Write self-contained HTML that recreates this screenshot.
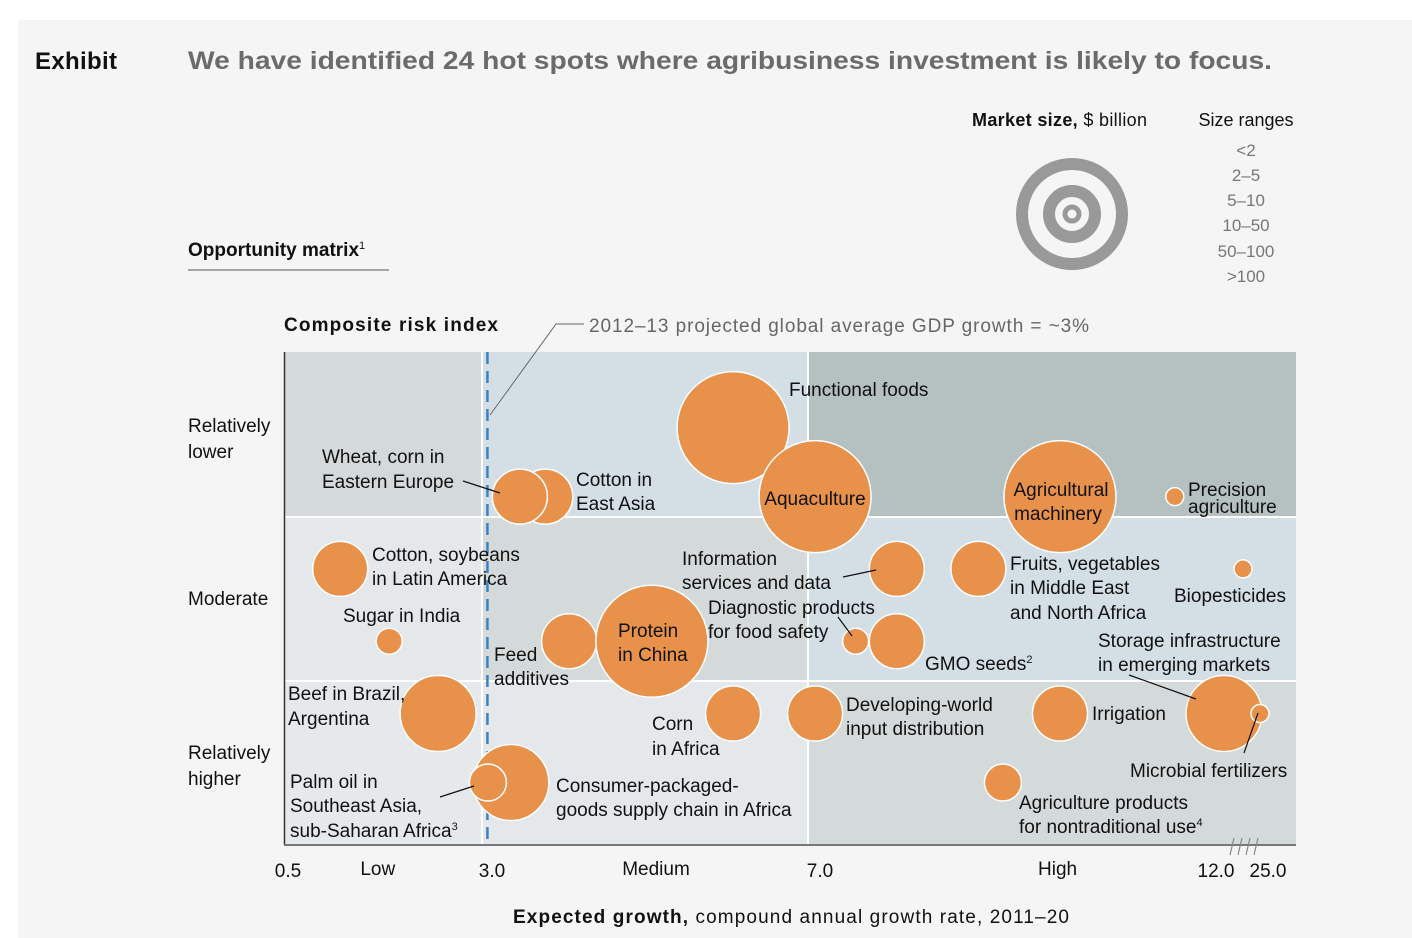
<!DOCTYPE html>
<html><head><meta charset="utf-8">
<style>
body{margin:0;background:#fff;}
svg{display:block;font-family:"Liberation Sans",Arial,sans-serif;}
</style></head>
<body>
<svg id="chart" width="1412" height="938" viewBox="0 0 1412 938">
<rect x="18" y="20" width="1394" height="918" fill="#f5f5f5"/>
<text x="35" y="69" font-size="24" font-weight="bold" fill="#111" textLength="82">Exhibit</text>
<text x="188" y="69" font-size="25" font-weight="bold" fill="#6b6b6b" textLength="1084" lengthAdjust="spacingAndGlyphs">We have identified 24 hot spots where agribusiness investment is likely to focus.</text>

<g>
<text x="972" y="126" font-size="18" fill="#111" textLength="175"><tspan font-weight="bold">Market size,</tspan> $ billion</text>
<text x="1246" y="126" font-size="18" text-anchor="middle" fill="#111">Size ranges</text>
<circle cx="1072" cy="214" r="50" fill="none" stroke="#999" stroke-width="12"/>
<circle cx="1072" cy="214" r="23" fill="none" stroke="#999" stroke-width="12"/>
<circle cx="1072" cy="214" r="7" fill="none" stroke="#999" stroke-width="5"/>
<g font-size="17" fill="#777" text-anchor="middle">
<text x="1246" y="156">&lt;2</text>
<text x="1246" y="181">2–5</text>
<text x="1246" y="206">5–10</text>
<text x="1246" y="231">10–50</text>
<text x="1246" y="257">50–100</text>
<text x="1246" y="282">&gt;100</text>
</g>
</g>

<text x="188" y="256" font-size="19" font-weight="bold" fill="#111">Opportunity matrix<tspan font-size="11" font-weight="normal" dy="-7">1</tspan></text>
<line x1="188" y1="270" x2="389" y2="270" stroke="#555" stroke-width="1"/>
<text x="284" y="331" font-size="19" font-weight="bold" fill="#111" textLength="214">Composite risk index</text>

<g>
<rect x="284" y="352" width="198" height="165" fill="#d4d9da"/>
<rect x="482" y="352" width="326" height="165" fill="#d3dee5"/>
<rect x="808" y="352" width="488" height="165" fill="#b5c0c0"/>
<rect x="284" y="517" width="198" height="164" fill="#e4e8ea"/>
<rect x="482" y="517" width="326" height="164" fill="#d4d9da"/>
<rect x="808" y="517" width="488" height="164" fill="#d3dee5"/>
<rect x="284" y="681" width="198" height="164" fill="#e6e9eb"/>
<rect x="482" y="681" width="326" height="164" fill="#e4e8ea"/>
<rect x="808" y="681" width="488" height="164" fill="#d4d9da"/>
<line x1="284" y1="517" x2="1296" y2="517" stroke="#fff" stroke-width="2"/>
<line x1="284" y1="681" x2="1296" y2="681" stroke="#fff" stroke-width="2"/>
<line x1="482" y1="352" x2="482" y2="845" stroke="#fff" stroke-width="2"/>
<line x1="808" y1="352" x2="808" y2="845" stroke="#fff" stroke-width="2"/>
</g>
<line x1="284.5" y1="352" x2="284.5" y2="845" stroke="#333" stroke-width="1.5"/>
<line x1="284" y1="845" x2="1296" y2="845" stroke="#777" stroke-width="2"/>
<g stroke="#888" stroke-width="1.2">
<line x1="1230" y1="855" x2="1234" y2="838"/><line x1="1238" y1="855" x2="1242" y2="838"/>
<line x1="1246" y1="855" x2="1250" y2="838"/><line x1="1254" y1="855" x2="1258" y2="838"/>
</g>

<g font-size="19" fill="#111">
<text x="188" y="432">Relatively<tspan x="188" dy="26">lower</tspan></text>
<text x="188" y="605">Moderate</text>
<text x="188" y="759">Relatively<tspan x="188" dy="26">higher</tspan></text>
</g>

<g id="xticks" font-size="19" fill="#111" text-anchor="middle"></g>
<text x="513" y="923" font-size="19" fill="#111" textLength="556"><tspan font-weight="bold">Expected growth,</tspan> compound annual growth rate, 2011–20</text>

<line id="gdpline" y1="352" y2="845" stroke="#3a83c0" stroke-width="2.5" stroke-dasharray="12,7"/>
<polyline points="490,415 556,324 584,324" fill="none" stroke="#666" stroke-width="1"/>
<text x="589" y="332" font-size="19" fill="#666" textLength="500">2012–13 projected global average GDP growth = ~3%</text>

<g id="bubbles"></g>

<g stroke="#111" stroke-width="1.2" fill="none">
<line x1="463" y1="481" x2="500" y2="493"/>
<line x1="843" y1="577" x2="876" y2="570"/>
<line x1="838" y1="617" x2="852" y2="636"/>
<line x1="1129" y1="675" x2="1196" y2="699"/>
<line x1="1244" y1="753" x2="1258" y2="713"/>
<line x1="440" y1="797" x2="474" y2="786"/>
</g>

<g font-size="19" fill="#111">
<text x="789" y="396">Functional foods</text>
<text x="322" y="463">Wheat, corn in<tspan x="322" dy="25">Eastern Europe</tspan></text>
<text x="576" y="486">Cotton in<tspan x="576" dy="24">East Asia</tspan></text>
<text x="815" y="505" text-anchor="middle">Aquaculture</text>
<text x="1061" y="496" text-anchor="middle">Agricultural<tspan x="1058" dy="24">machinery</tspan></text>
<text x="1188" y="496">Precision<tspan x="1188" dy="17">agriculture</tspan></text>
<text x="372" y="561">Cotton, soybeans<tspan x="372" dy="24">in Latin America</tspan></text>
<text x="682" y="565">Information<tspan x="682" dy="24">services and data</tspan></text>
<text x="1010" y="570">Fruits, vegetables<tspan x="1010" dy="24">in Middle East</tspan><tspan x="1010" dy="25">and North Africa</tspan></text>
<text x="1174" y="602">Biopesticides</text>
<text x="343" y="622">Sugar in India</text>
<text x="708" y="614">Diagnostic products<tspan x="708" dy="24">for food safety</tspan></text>
<text x="618" y="637">Protein<tspan x="618" dy="24">in China</tspan></text>
<text x="1098" y="647">Storage infrastructure<tspan x="1098" dy="24">in emerging markets</tspan></text>
<text x="494" y="661">Feed<tspan x="494" dy="24">additives</tspan></text>
<text x="925" y="670">GMO seeds<tspan font-size="11" dy="-7">2</tspan></text>
<text x="288" y="700">Beef in Brazil,<tspan x="288" dy="25">Argentina</tspan></text>
<text x="846" y="711">Developing-world<tspan x="846" dy="24">input distribution</tspan></text>
<text x="1092" y="720">Irrigation</text>
<text x="652" y="730">Corn<tspan x="652" dy="25">in Africa</tspan></text>
<text x="1130" y="777">Microbial fertilizers</text>
<text x="290" y="788">Palm oil in<tspan x="290" dy="24">Southeast Asia,</tspan><tspan x="290" dy="25">sub-Saharan Africa</tspan><tspan font-size="11" dy="-7">3</tspan></text>
<text x="556" y="792">Consumer-packaged-<tspan x="556" dy="24">goods supply chain in Africa</tspan></text>
<text x="1019" y="809">Agriculture products<tspan x="1019" dy="24">for nontraditional use</tspan><tspan font-size="11" dy="-7">4</tspan></text>
</g>
</svg>
<script>
// Data
const names = ["Wheat, corn in Eastern Europe","Cotton in East Asia","Functional foods","Aquaculture","Agricultural machinery","Precision agriculture","Cotton, soybeans in Latin America","Information services and data","Fruits, vegetables in MENA","Biopesticides","Sugar in India","Feed additives","Protein in China","Diagnostic products","GMO seeds","Beef in Brazil, Argentina","Corn in Africa","Developing-world input distribution","Irrigation","Storage infrastructure","Microbial fertilizers","Consumer-packaged goods Africa","Palm oil","Agriculture products nontraditional"];
const growth = [3.34,3.65,5.94,6.94,10.03,11.48,1.14,7.97,9.0,18.75,1.74,3.94,4.95,7.45,7.97,2.34,5.94,6.94,10.03,14.0,23.0,3.23,2.95,9.31];
const risk = [0.88,0.88,0.46,0.88,0.88,0.88,1.32,1.32,1.32,1.32,1.76,1.76,1.76,1.76,1.76,2.20,2.20,2.20,2.20,2.20,2.20,2.62,2.62,2.62];
const sizeClass = [4,4,6,6,6,1,4,4,4,1,2,4,6,2,4,5,4,4,4,5,1,5,3,3];
const drawOrder = [1,0,2,3,4,5,6,7,8,9,10,11,12,13,14,15,16,17,18,19,20,21,22,23];
const tickValues = [0.5,3.0,7.0,12.0,25.0];
const tickLabels = ["0.5","3.0","7.0","12.0","25.0"];
const zoneLabels = ["Low","Medium","High"];
const zoneLabelValues = [1.6,5.0,10.0];
const gdpGrowth = 2.95;

// Axis functions (piecewise linear x, linear y)
const xDom = [0.5,3.0,7.0,12.0,25.0], xRng = [288,492,820,1216,1268];
function xScale(v){
  for(let i=0;i<xDom.length-1;i++){
    if(v<=xDom[i+1]||i===xDom.length-2){
      return xRng[i]+(v-xDom[i])/(xDom[i+1]-xDom[i])*(xRng[i+1]-xRng[i]);
    }
  }
}
function yScale(v){return 352+v*164.33;}
const radii=[0,9,13,18.5,27.5,38,56];
function rScale(c){return radii[c];}

const NS="http://www.w3.org/2000/svg";
const tg=document.getElementById('xticks');
tickValues.forEach((v,i)=>{
  const t=document.createElementNS(NS,'text');
  t.setAttribute('x',xScale(v)); t.setAttribute('y',877);
  t.textContent=tickLabels[i];
  
  
  tg.appendChild(t);
});
zoneLabels.forEach((l,i)=>{
  const t=document.createElementNS(NS,'text');
  t.setAttribute('x',xScale(zoneLabelValues[i])); t.setAttribute('y',875);
  t.textContent=l;
  
  
  tg.appendChild(t);
});
const gl=document.getElementById('gdpline');
gl.setAttribute('x1',xScale(gdpGrowth)-0.5);gl.setAttribute('x2',xScale(gdpGrowth)-0.5);

const bg=document.getElementById('bubbles');
drawOrder.forEach(i=>{
  const c=document.createElementNS(NS,'circle');
  c.setAttribute('cx',xScale(growth[i]));
  c.setAttribute('cy',yScale(risk[i]));
  c.setAttribute('r',rScale(sizeClass[i]));
  c.setAttribute('fill','#e8914a');
  c.setAttribute('stroke','#fff');
  c.setAttribute('stroke-width','1.5');
  
  
  const tt=document.createElementNS(NS,'title'); tt.textContent=names[i]; c.appendChild(tt);
  bg.appendChild(c);
});
</script>
</body></html>
